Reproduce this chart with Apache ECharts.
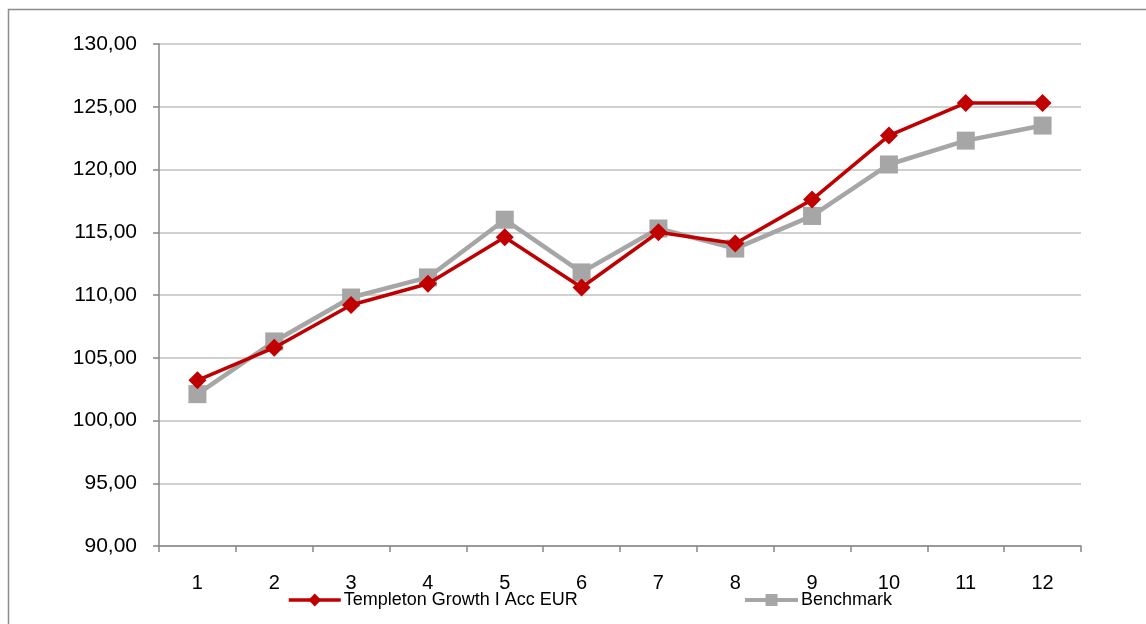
<!DOCTYPE html>
<html>
<head>
<meta charset="utf-8">
<script src="https://cdn.jsdelivr.net/npm/echarts@6/dist/echarts.min.js"></script>
<style>
html,body{margin:0;padding:0;background:#fff;}
#chart{width:1146px;height:624px;}
</style>
</head>
<body>
<div id="chart"></div>
<script>
var categories = ['1','2','3','4','5','6','7','8','9','10','11','12'];
var fundName = 'Templeton Growth I Acc EUR';
var benchName = 'Benchmark';
var fundValues = [103.2, 105.8, 109.2, 110.9, 114.6, 110.6, 115.0, 114.1, 117.6, 122.7, 125.3, 125.3];
var benchValues = [102.1, 106.3, 109.8, 111.4, 116.0, 111.8, 115.3, 113.7, 116.3, 120.4, 122.3, 123.5];
var yTicks = {min: 90, max: 130, interval: 5};

var chart = echarts.init(document.getElementById('chart'));
chart.setOption({
  animation: false,
  backgroundColor: '#fff',
  graphic: [{
    type: 'rect', silent: true, z: -1,
    shape: {x: 8.5, y: 9.5, width: 1200, height: 700},
    style: {fill: 'none', stroke: '#8c8c8c', lineWidth: 1.5}
  }],
  grid: {left: 159, right: 65, top: 44, bottom: 78, containLabel: false},
  legend: [{
    data: [fundName], left: 282, top: 586,
    itemWidth: 52, itemHeight: 16, itemGap: 5,
    lineStyle: {width: 3.5},
    textStyle: {fontFamily: 'Liberation Sans, Arial', fontSize: 18, color: '#000', padding: [0,0,0,-2]}
  }, {
    data: [benchName], left: 738, top: 586,
    itemWidth: 53, itemHeight: 15, itemGap: 5,
    lineStyle: {width: 4},
    textStyle: {fontFamily: 'Liberation Sans, Arial', fontSize: 18, color: '#000', padding: [0,0,0,-2]}
  }],
  xAxis: {
    type: 'category', data: categories, boundaryGap: true,
    axisLine: {lineStyle: {color: '#868686', width: 1.5}},
    axisTick: {show: true, length: 6, lineStyle: {color: '#868686', width: 1.5}},
    axisLabel: {fontFamily: 'Liberation Sans, Arial', fontSize: 20, color: '#000', margin: 27}
  },
  yAxis: {
    type: 'value', min: yTicks.min, max: yTicks.max, interval: yTicks.interval,
    axisLine: {show: true, lineStyle: {color: '#868686', width: 1.5}},
    axisTick: {show: true, length: 6, lineStyle: {color: '#868686', width: 1.5}},
    splitLine: {lineStyle: {color: '#c0c0c0', width: 1.5}},
    axisLabel: {
      fontFamily: 'Liberation Sans, Arial', fontSize: 21, color: '#000', margin: 22,
      formatter: function (v) { return v.toFixed(2).replace('.', ','); }
    }
  },
  series: [{
    name: benchName, type: 'line', data: benchValues,
    symbol: 'rect', symbolSize: 18, z: 2,
    lineStyle: {color: '#a6a6a6', width: 4.5},
    itemStyle: {color: '#a6a6a6'}
  }, {
    name: fundName, type: 'line', data: fundValues,
    symbol: 'diamond', symbolSize: [18, 18], z: 3,
    lineStyle: {color: '#c00000', width: 3.5},
    itemStyle: {color: '#c00000'}
  }]
});
</script>
</body>
</html>
